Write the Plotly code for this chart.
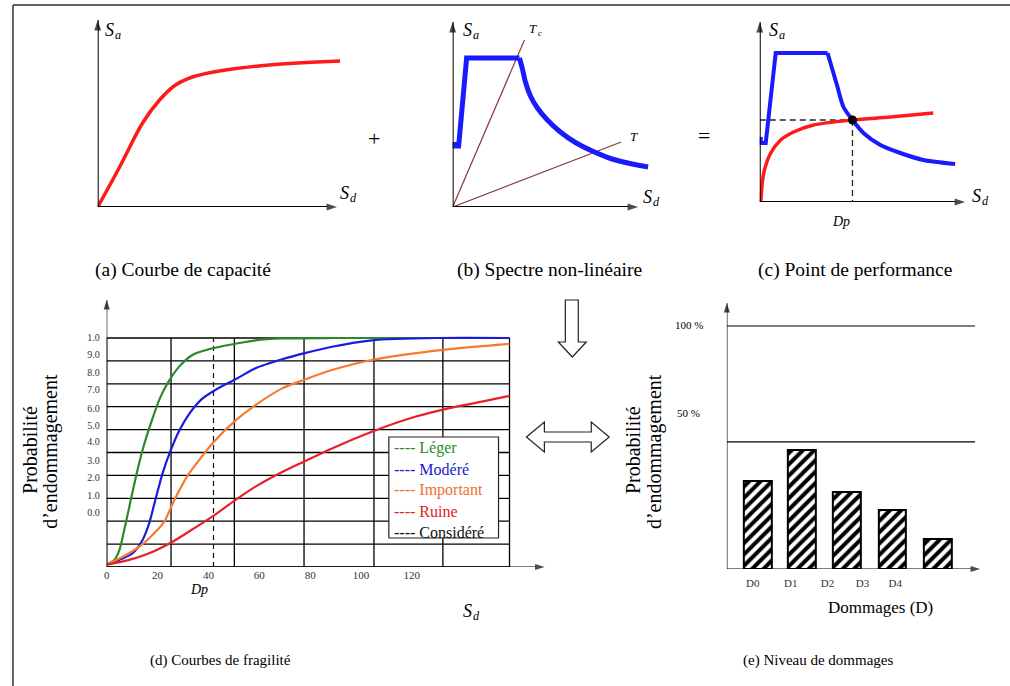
import plotly.graph_objects as go

W, H = 1010, 686
def px(x): return x / W
def py(y): return 1 - y / H

SERIF = "Liberation Serif, Times New Roman, serif"

# ---------------- data ----------------
# (a) capacity curve (schematic units)
cap_sd = [0, 22, 45, 62, 78, 95, 122, 172, 243]
cap_sa = [0, 40, 84, 107, 122, 130, 136, 142, 146]

# (b) non-linear spectrum: rising branch + plateau, then decaying branch
specb_rise_sd = [2, 2, 6, 14, 67]
specb_rise_sa = [65, 61, 61, 149, 149]
specb_decay_sd = [67, 70, 73, 78, 85, 95, 108, 124, 140, 160, 180, 196]
specb_decay_sa = [149, 138, 125, 111, 99, 87, 75, 64, 56, 48, 43, 40]
tc_sd = [0, 72]
tc_sa = [0, 167]
t_sd = [0, 169]
t_sa = [0, 65]

# (c) performance point
specc_rise_sd = [1, 1, 6, 16, 68]
specc_rise_sa = [65, 59, 59, 149, 149]
specc_decay_sd = [68, 73, 78, 84, 93, 104, 121, 141, 164, 196]
specc_decay_sa = [149, 132, 115, 95, 82, 69, 57, 49, 42, 38]
capc_sd = [1, 4, 11, 21, 34, 54, 93, 131, 174]
capc_sa = [0, 29, 49, 62, 70, 77, 82, 85, 89]
dp_sd = 93
dp_sa = 82

# (d) fragility curves
leger_x = [0, 3.0, 5.0, 6.9, 8.9, 11.5, 14.1, 17.4, 20.7, 23.9, 28.5, 33.7, 41.6, 50.7, 58.5, 69, 90, 158.4]
leger_y = [0.01, 0.031, 0.074, 0.162, 0.263, 0.394, 0.511, 0.628, 0.731, 0.802, 0.875, 0.926, 0.955, 0.975, 0.99, 0.998, 1.0, 1.0]
modere_x = [0, 5.0, 10.2, 14.1, 16.7, 19.3, 22.0, 25.2, 28.5, 32.4, 37.6, 44.2, 50.7, 58.5, 69, 77.5, 88.6, 104.3, 130, 158.4]
modere_y = [0.012, 0.031, 0.060, 0.118, 0.191, 0.300, 0.41, 0.51, 0.595, 0.668, 0.735, 0.783, 0.82, 0.868, 0.907, 0.933, 0.962, 0.99, 1.0, 1.0]
important_x = [0, 6.3, 12.8, 18.0, 22.6, 26.5, 31.8, 37.6, 41.8, 50.7, 58.5, 69, 77.5, 88.6, 104.3, 132.2, 158.4]
important_y = [0.012, 0.045, 0.089, 0.14, 0.197, 0.29, 0.399, 0.485, 0.543, 0.64, 0.707, 0.78, 0.817, 0.86, 0.904, 0.948, 0.974]
ruine_x = [0, 8.9, 16.7, 25.2, 32.4, 41.8, 50.7, 58.5, 69, 77.5, 88.6, 104.3, 121.3, 134.4, 147.5, 158.4]
ruine_y = [0.01, 0.031, 0.06, 0.106, 0.155, 0.222, 0.293, 0.351, 0.415, 0.46, 0.518, 0.591, 0.656, 0.693, 0.722, 0.747]
dp_d = 42
grid_x = [0, 25.3, 50.2, 77.6, 105.1, 132.2, 158.4]
grid_y = [0, 0.1, 0.2, 0.3, 0.4, 0.5, 0.6, 0.7, 0.8, 0.9, 1.0]
d_xtick_vals = [0, 20, 40, 60, 80, 100, 120]
d_ytick_vals = [1.004, 0.93, 0.851, 0.773, 0.694, 0.62, 0.546, 0.467, 0.393, 0.314, 0.24]
d_ytick_text = ["1.0", "9.0", "8.0", "7.0", "6.0", "5.0", "4.0", "3.0", "2.0", "1.0", "0.0"]
legend_names = ["Léger", "Modéré", "Important", "Ruine", "Considéré"]
legend_colors = ["#2a8a2a", "#1a1ad0", "#f07030", "#e02020", "#111111"]

# (e) damage levels
bar_pos = [31, 75, 120, 166, 212]
bar_vals = [36.2, 49, 31.7, 24.3, 12.3]
e_tick_pos = [26, 64, 101, 136, 169]
e_tick_text = ["D0", "D1", "D2", "D3", "D4"]
e_levels = [100, 52.3]
e_level_text = ["100 %", "50 %"]

# ---------------- figure ----------------
fig = go.Figure()

def sc(x, y, ax, color, width, shape="linear", dash="solid", mode="lines", marker=None, smoothing=None):
    line = dict(color=color, width=width, shape=shape, dash=dash)
    if smoothing is not None:
        line["smoothing"] = smoothing
    fig.add_trace(go.Scatter(x=x, y=y, xaxis="x" + ax, yaxis="y" + ax, mode=mode,
                             line=line, marker=marker, hoverinfo="skip", showlegend=False,
                             cliponaxis=False))

# (a)
sc(cap_sd, cap_sa, "", "#ff1a1a", 3.5, "spline")
# (b)
sc(tc_sd, tc_sa, "2", "#8b3a3a", 1.2)
sc(t_sd, t_sa, "2", "#8b3a3a", 1.2)
sc(specb_rise_sd, specb_rise_sa, "2", "#1a1aff", 5)
sc(specb_decay_sd, specb_decay_sa, "2", "#1a1aff", 5, "spline", smoothing=0.8)
# (c)
sc([0, dp_sd], [dp_sa, dp_sa], "3", "#222", 1.3, dash="6px,4px")
sc([dp_sd, dp_sd], [dp_sa, 0], "3", "#222", 1.3, dash="6px,4px")
sc(specc_rise_sd, specc_rise_sa, "3", "#1a1aff", 4)
sc(specc_decay_sd, specc_decay_sa, "3", "#1a1aff", 4, "spline", smoothing=0.8)
sc(capc_sd, capc_sa, "3", "#ff1a1a", 3.5, "spline", smoothing=0.8)
sc([dp_sd], [dp_sa], "3", "black", 1, mode="markers", marker=dict(size=9, color="black"))
# (d)
sc([dp_d, dp_d], [0, 1], "4", "#111", 1.2, dash="5px,4px")
sc(leger_x, leger_y, "4", "#2a8a2a", 2.2, "spline", smoothing=0.7)
sc(modere_x, modere_y, "4", "#1a1ae0", 2.2, "spline", smoothing=0.7)
sc(important_x, important_y, "4", "#f57a30", 2.2, "spline", smoothing=0.7)
sc(ruine_x, ruine_y, "4", "#e8202a", 2.2, "spline", smoothing=0.7)
# (e)
fig.add_trace(go.Bar(x=bar_pos, y=bar_vals, width=28, xaxis="x5", yaxis="y5",
                     marker=dict(color="white", line=dict(color="black", width=2),
                                 pattern=dict(shape="/", fgcolor="black", bgcolor="white",
                                              fgopacity=1, size=8, solidity=0.5)),
                     hoverinfo="skip", showlegend=False))

# axis arrows (line + arrow marker at the tip)
def arrow(ax, x1, y1, width=2, size=11):
    fig.add_trace(go.Scatter(x=[0, x1], y=[0, y1], xaxis="x" + ax, yaxis="y" + ax,
                             mode="lines+markers", cliponaxis=False,
                             line=dict(color="black", width=width),
                             marker=dict(symbol="arrow", angleref="previous", size=[0, size],
                                         color="black", line=dict(width=0)),
                             hoverinfo="skip", showlegend=False))

arrow("", 240, 0)
arrow("", 0, 187)
arrow("2", 186, 0)
arrow("2", 0, 185)
arrow("3", 206, 0)
arrow("3", 0, 180)
arrow("4", 172.2, 0, width=1.2, size=10)
arrow("4", 0, 1.166, width=1.2, size=10)
arrow("5", 254, 0, width=1.2, size=10)
arrow("5", 0, 109.5, width=1.2, size=10)

shapes = []
# grid of (d)
for gy in grid_y:
    shapes.append(dict(type="line", xref="x4", yref="y4", x0=0, x1=grid_x[-1], y0=gy, y1=gy,
                       line=dict(color="black", width=1.3), layer="below"))
for gx in grid_x:
    shapes.append(dict(type="line", xref="x4", yref="y4", x0=gx, x1=gx, y0=0, y1=1,
                       line=dict(color="black", width=1.3), layer="below"))
# level lines of (e)
for lv in e_levels:
    shapes.append(dict(type="line", xref="x5", yref="y5", x0=0, x1=249, y0=lv, y1=lv,
                       line=dict(color="black", width=1.2)))
# outer frame
shapes.append(dict(type="line", xref="paper", yref="paper", x0=px(10), x1=px(1010), y0=py(5), y1=py(5),
                   line=dict(color="#333", width=1.5)))
shapes.append(dict(type="line", xref="paper", yref="paper", x0=px(10), x1=px(10), y0=py(5), y1=py(686),
                   line=dict(color="#333", width=1.5)))
# legend box of (d)
shapes.append(dict(type="rect", xref="paper", yref="paper", x0=px(387), x1=px(497), y0=py(538), y1=py(437),
                   line=dict(color="#222", width=1.2), fillcolor="white"))

def path(points):
    return "M " + " L ".join(f"{px(x):.5f},{py(y):.5f}" for x, y in points) + " Z"

# hollow down arrow
shapes.append(dict(type="path", xref="paper", yref="paper",
                   path=path([(564, 300), (577, 300), (577, 342), (585, 342), (571, 357), (557, 342), (564, 342)]),
                   line=dict(color="#222", width=1.2), fillcolor="white"))
# hollow double arrow
shapes.append(dict(type="path", xref="paper", yref="paper",
                   path=path([(525, 437), (543, 422), (543, 432), (590, 432), (590, 422), (608, 437),
                              (590, 452), (590, 442), (543, 442), (543, 452)]),
                   line=dict(color="#222", width=1.2), fillcolor="white"))

ann = []
def txt(x, y, text, size=16, color="black", angle=0, italic=False, **kw):
    font = dict(family=SERIF, size=size, color=color)
    if italic:
        font["style"] = "italic"
    d = dict(xref="paper", yref="paper", x=px(x), y=py(y), text=text, showarrow=False,
             font=font, textangle=angle, xanchor="center", yanchor="middle")
    d.update(kw)
    ann.append(d)

def sub_label(x, y, main, sub, size=18):
    # italic main letter with a smaller italic subscript to its lower right
    txt(x + 1, y, main, size, italic=True, xanchor="right")
    txt(x - 2, y + size * 0.3, sub, size * 0.68, italic=True, xanchor="left")

sub_label(112, 30, "S", "a")
sub_label(348, 193, "S", "d")
sub_label(471, 30, "S", "a")
sub_label(652, 197, "S", "d")
sub_label(537, 29, "T", "c", size=13)
txt(633, 136, "T", 13, italic=True)
sub_label(778, 30, "S", "a")
sub_label(982, 196, "S", "d")
txt(840, 221, "Dp", 14, italic=True)
txt(372, 138, "+", 22)
txt(703, 135, "=", 22)
txt(181, 270, "(a) Courbe de capacité", 19.5)
txt(548, 270, "(b) Spectre non-linéaire", 19.5)
txt(855, 270, "(c) Point de performance", 19.5)

# (d) texts
txt(27, 450, "Probabilité", 20, angle=-90)
txt(47, 451, "d’endommagement", 20, angle=-90)
txt(197, 589, "Dp", 14, italic=True)
sub_label(471, 611, "S", "d")
txt(218, 660, "(d) Courbes de fragilité", 15)
for i, (n, c) in enumerate(zip(legend_names, legend_colors)):
    txt(390, 448 + 21 * i, "---- " + n, 16, color=c, xanchor="left")

# (e) texts
txt(632, 450, "Probabilité", 20, angle=-90)
txt(653, 452, "d’endommagement", 20, angle=-90)
for lv_y, lt in zip([325, 413], e_level_text):
    txt(688, lv_y, lt, 11)
txt(880, 607, "Dommages (D)", 17)
txt(818, 660, "(e) Niveau de dommages", 15)

def axis(dom, rng, anchor, visible=False, **kw):
    d = dict(domain=dom, range=rng, anchor=anchor, visible=visible, fixedrange=True,
             showgrid=False, zeroline=False, showline=False)
    d.update(kw)
    return d

tickfont = dict(family=SERIF, size=11, color="#333")

fig.update_layout(
    width=W, height=H, margin=dict(l=0, r=0, t=0, b=0),
    paper_bgcolor="white", plot_bgcolor="rgba(0,0,0,0)",
    showlegend=False, bargap=0,
    xaxis=axis([px(95), px(340)], [0, 245], "y"),
    yaxis=axis([py(207), py(18)], [0, 189], "x"),
    xaxis2=axis([px(451), px(660)], [0, 209], "y2"),
    yaxis2=axis([py(207), py(18)], [0, 189], "x2"),
    xaxis3=axis([px(759), px(990)], [0, 231], "y3"),
    yaxis3=axis([py(202), py(18)], [0, 184], "x3"),
    xaxis4=axis([px(104), px(545)], [0, 172.9], "y4", visible=True,
                tickmode="array", tickvals=d_xtick_vals, ticks="", tickfont=tickfont),
    yaxis4=axis([py(567), py(298)], [0, 1.1747], "x4", visible=True,
                tickmode="array", tickvals=d_ytick_vals, ticktext=d_ytick_text, ticks="",
                tickfont=dict(family=SERIF, size=10, color="#333"), ticklabelstandoff=6),
    xaxis5=axis([px(726), px(985)], [0, 259], "y5", visible=True,
                tickmode="array", tickvals=e_tick_pos, ticktext=e_tick_text, ticks="",
                tickfont=tickfont, ticklabelstandoff=6),
    yaxis5=axis([py(569), py(300)], [0, 110.7], "x5"),
    shapes=shapes,
    annotations=ann,
)

fig.write_html("out.html", config={"displayModeBar": False},
               post_script="document.body.style.margin='0';document.body.style.overflow='hidden';")
